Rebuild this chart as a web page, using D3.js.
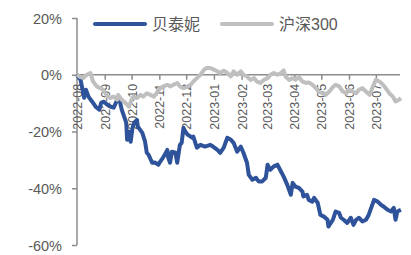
<!DOCTYPE html>
<html><head><meta charset="utf-8">
<script src="https://cdn.jsdelivr.net/npm/d3@7"></script>
<style>html,body{margin:0;padding:0;background:#fff;}svg{display:block;}</style>
</head><body>
<script>
const startDate = "2022-08-01";
const endDate = "2023-07-28";
const monthTicks = ["2022-08","2022-09","2022-10","2022-11","2022-12","2023-01","2023-02","2023-03","2023-04","2023-05","2023-06","2023-07"];
const yTicks = [20, 0, -20, -40, -60];
const seriesNames = ["贝泰妮", "沪深300"];
// days since start date, and cumulative return (%)
const btnDays = [0,4,8,10,13,17,21,25,27,30,34,38,41,45,47,50,55,56,58,60,62,64,67,68,73,76,78,80,84,87,91,93,96,101,102,104,106,110,112,115,117,119,121,124,129,130,134,138,143,149,152,157,160,164,168,172,175,179,183,186,190,192,196,200,203,207,211,213,216,220,224,228,231,235,239,241,244,248,252,253,257,259,263,265,269,272,276,280,281,286,289,293,295,298,302,306,309,312,315,319,323,326,328,332,336,340,343,347,351,354,356,358,362];
const btnValues = [0,-1.8,-8.1,-5.3,-7.8,-9.5,-11.3,-12.3,-9.9,-9.5,-10.6,-11.3,-11.6,-8.8,-8.1,-12.3,-16.9,-22.9,-20.1,-23.6,-18.7,-16.9,-15.9,-18.3,-20.5,-23.5,-27.5,-28.2,-31.0,-30.9,-31.7,-30.6,-29.3,-26.5,-29.3,-31.0,-27.1,-27.5,-31.0,-24.7,-24.0,-18.7,-20.0,-21.2,-22.2,-21.8,-25.7,-24.7,-25.3,-24.7,-25.3,-26.5,-27.5,-25.7,-22.2,-22.9,-24.0,-27.1,-25.3,-27.5,-31.0,-35.3,-37.0,-36.3,-37.6,-37.6,-36.3,-31.7,-33.5,-32.3,-31.7,-34.1,-35.9,-38.8,-42.3,-38.1,-39.4,-39.9,-41.2,-42.9,-42.3,-44.1,-44.7,-43.4,-45.1,-49.4,-50.0,-51.1,-53.5,-51.1,-48.2,-48.7,-50.4,-51.1,-52.2,-50.4,-52.9,-51.1,-50.4,-51.7,-51.1,-49.4,-47.6,-44.1,-44.7,-45.9,-46.5,-47.6,-48.2,-46.9,-51.1,-48.2,-47.6];
const hsDays = [0,3,7,11,15,18,22,26,29,33,37,41,45,46,50,54,58,61,63,67,71,74,78,82,86,89,93,97,101,104,108,112,115,119,123,127,130,134,138,142,145,149,153,157,160,164,168,172,175,179,183,186,190,194,198,201,205,209,213,216,220,224,228,231,233,237,241,244,248,252,256,259,263,267,270,274,278,282,286,289,293,297,301,304,308,312,315,319,323,327,330,334,338,342,345,349,353,356,360,362];
const hsValues = [0,-0.7,-1.1,0,0.6,-2.4,-4.1,-4.7,-5.3,-7.1,-8.2,-7.7,-8.8,-7.1,-8.8,-9.9,-11.2,-8.8,-7.7,-8.2,-7.1,-7.7,-6.5,-7.1,-7.7,-6.5,-4.7,-4.1,-3.5,-4.1,-3.5,-2.9,-4.1,-4.7,-4.3,-3.5,-2.4,-1.2,0,1.8,2.4,2.4,1.8,1.2,0.6,1.4,0.6,-0.6,1.2,0,1.2,0,-0.6,-1.8,-1.2,-2.4,-2.9,-1.8,-1.2,0,0.6,0,0.6,1.5,-0.6,-1.8,-1.2,-1.8,-0.8,-2.4,-2.9,-2.7,-3.5,-4.7,-5.9,-6.5,-7.1,-5.9,-4.3,-3.5,-4.1,-5.9,-6.5,-5.3,-5.9,-6.5,-5.3,-4.7,-5.9,-7.1,-4.7,-1.8,-2.4,-3.5,-4.7,-6.5,-7.7,-9.4,-8.8,-8.2];

const W = 411, H = 255;
const parse = d3.utcParse("%Y-%m-%d");
const t0 = parse(startDate), t1 = parse(endDate);
const dayOf = d => d3.utcDay.offset(t0, d);

const x = d3.scaleUtc().domain([t0, t1]).range([77, 400]);
const y = d3.scaleLinear().domain([-60, 20]).range([245, 18]);

const svg = d3.select("body").append("svg").attr("width", W).attr("height", H)
  .style("font-family", "'Liberation Sans', Arial, sans-serif");

const axisColor = "#8c8c8c", textColor = "#595959";

// y axis
const yAxis = svg.append("g").attr("transform", "translate(77,0)")
  .call(d3.axisLeft(y).tickValues(yTicks).tickSize(5).tickPadding(10).tickFormat(d => d + "%"));
yAxis.select(".domain").attr("stroke", axisColor).attr("stroke-width", 1.5).attr("d", "M0," + y(20) + "V" + y(-60));
yAxis.selectAll(".tick line").attr("stroke", axisColor).attr("stroke-width", 1.5);
yAxis.selectAll(".tick text").attr("fill", textColor).style("font-size", "14.5px").attr("dy", "0.36em");

// x axis at 0%
const tickDates = monthTicks.map(m => parse(m + "-01"));
const xAxis = svg.append("g").attr("transform", "translate(0," + y(0) + ")")
  .call(d3.axisBottom(x).tickValues(tickDates).tickSize(5).tickFormat(d3.utcFormat("%Y-%m")));
xAxis.select(".domain").attr("stroke", axisColor).attr("stroke-width", 1.5).attr("d", "M77,0H400");
xAxis.selectAll(".tick line").attr("stroke", axisColor).attr("stroke-width", 1.5);
xAxis.selectAll(".tick text").attr("fill", textColor).style("font-size", "12.5px")
  .attr("transform", "rotate(-90)").attr("text-anchor", "end")
  .attr("x", -9).attr("y", 0).attr("dy", "0.36em");

const line = d3.line().x(d => x(dayOf(d[0]))).y(d => y(d[1]));
const btn = btnDays.map((d, i) => [d, btnValues[i]]);
const hs = hsDays.map((d, i) => [d, hsValues[i]]);
const colors = ["#2E539A", "#BFBFBF"];

svg.append("path").datum(btn).attr("d", line).attr("fill", "none")
  .attr("stroke", colors[0]).attr("stroke-width", 4).attr("stroke-linejoin", "round");
svg.append("path").datum(hs).attr("d", line).attr("fill", "none")
  .attr("stroke", colors[1]).attr("stroke-width", 4).attr("stroke-linejoin", "round");

// legend
const legend = [{name: seriesNames[0], x: 95, c: colors[0]}, {name: seriesNames[1], x: 222, c: colors[1]}];
legend.forEach(l => {
  svg.append("line").attr("x1", l.x).attr("x2", l.x + 50).attr("y1", 24).attr("y2", 24)
    .attr("stroke", l.c).attr("stroke-width", 4).attr("stroke-linecap", "round");
  svg.append("text").attr("x", l.x + 57).attr("y", 24).attr("dy", "0.36em")
    .attr("fill", textColor).style("font-size", "16px")
    .style("font-family", "'Liberation Sans', 'Noto Sans CJK SC', sans-serif").text(l.name);
});
</script>
</body></html>
